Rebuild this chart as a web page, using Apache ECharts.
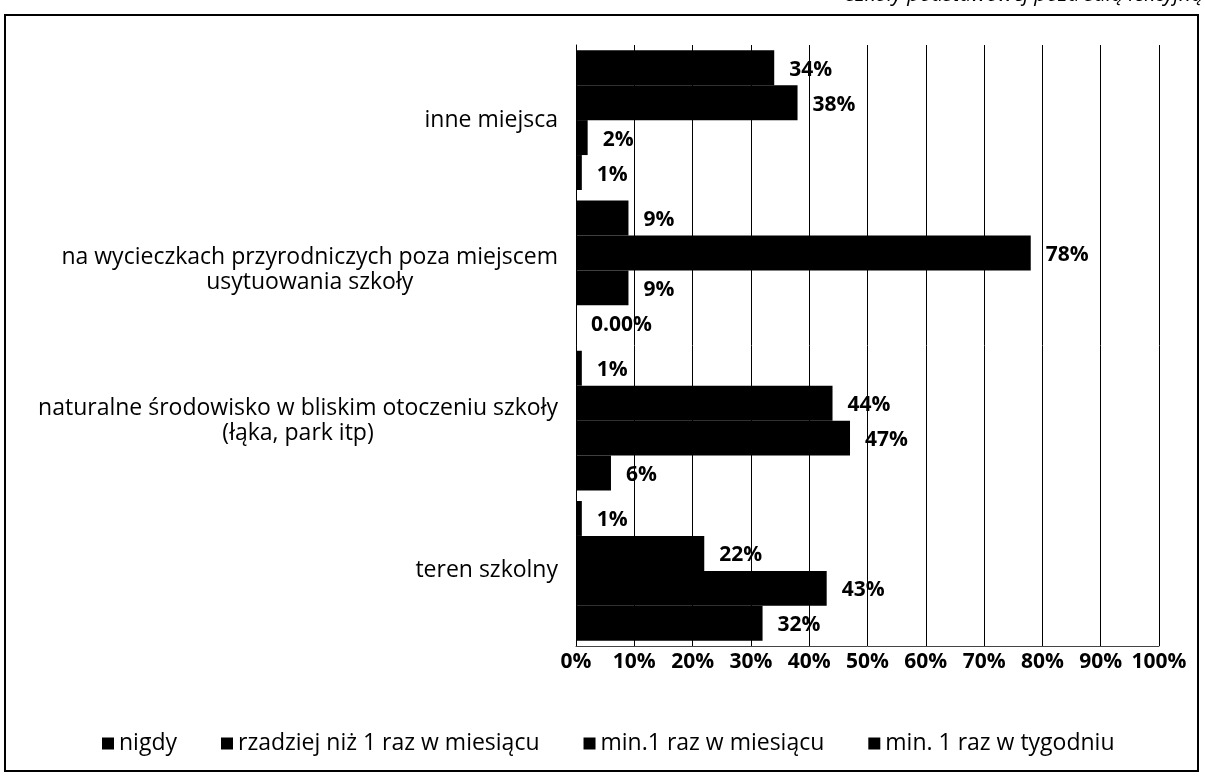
<!DOCTYPE html>
<html lang="pl">
<head>
<meta charset="utf-8">
<style>
  html, body, #container { width: 100%; height: 100%; margin: 0; padding: 0; background: #fff; }
</style>
</head>
<body>
<div id="container"></div>
<script src="https://cdn.jsdelivr.net/npm/echarts@6/dist/echarts.min.js"></script>
<script>
  // categories, top to bottom
  var categories = [
    'inne miejsca',
    'na wycieczkach przyrodniczych poza miejscem\nusytuowania szkoły',
    'naturalne środowisko w bliskim otoczeniu szkoły\n(łąka, park itp)',
    'teren szkolny'
  ];
  var seriesNames = ['nigdy', 'rzadziej niż 1 raz w miesiącu', 'min.1 raz w miesiącu', 'min. 1 raz w tygodniu'];
  var nigdy = [34, 9, 1, 1];
  var rzadziej = [38, 78, 44, 22];
  var minMiesiac = [2, 9, 47, 43];
  var minTydzien = [1, 0, 6, 32];
  var xTicks = [0, 10, 20, 30, 40, 50, 60, 70, 80, 90, 100];

  var font = 'Open Sans';
  var dom = document.getElementById('container');
  var myChart = echarts.init(dom, null, { renderer: 'canvas' });

  function barSeries(name, data) {
    return {
      name: name,
      type: 'bar',
      data: data,
      barGap: 0,
      barCategoryGap: '7%',
      itemStyle: { color: '#000' },
      label: {
        show: true,
        position: 'right',
        distance: 15,
        offset: [0, 2],
        color: '#000',
        fontFamily: font,
        fontWeight: 'bold',
        fontSize: 21,
        formatter: function (p) { return p.value === 0 ? '0.00%' : p.value + '%'; }
      }
    };
  }

  var option = {
    animation: false,
    backgroundColor: '#fff',
    textStyle: { fontFamily: font },
    graphic: [
      {
        type: 'rect',
        shape: { x: 5, y: 15, width: 1193, height: 756 },
        style: { fill: 'none', stroke: '#000', lineWidth: 2 }
      },
      {
        type: 'text',
        right: 2,
        top: -15,
        style: {
          text: 'szkoły podstawowej poza salą lekcyjną',
          fill: '#000',
          font: 'italic 21px "Open Sans"'
        }
      }
    ],
    legend: {
      left: 97,
      top: 727,
      itemWidth: 12,
      itemHeight: 12,
      itemGap: 44,
      icon: 'rect',
      textStyle: { color: '#000', fontSize: 23, fontFamily: font },
      data: seriesNames
    },
    grid: { left: 576, right: 46, top: 45, bottom: 131 },
    xAxis: {
      type: 'value',
      min: 0,
      max: 100,
      interval: 10,
      axisLine: { show: true, lineStyle: { color: '#444', width: 1 } },
      axisTick: { show: false },
      splitLine: { show: true, lineStyle: { color: '#000', width: 1 } },
      axisLabel: {
        color: '#000',
        fontSize: 21,
        fontWeight: 'bold',
        fontFamily: font,
        margin: 6,
        formatter: function (v) { return xTicks.indexOf(v) >= 0 ? v + '%' : ''; }
      }
    },
    yAxis: {
      type: 'category',
      inverse: true,
      data: categories,
      axisLine: { show: true, lineStyle: { color: '#000', width: 1 } },
      axisTick: { show: false },
      axisLabel: {
        color: '#000',
        fontSize: 23,
        fontFamily: font,
        margin: 18,
        lineHeight: 25,
        formatter: function (v) {
          return v.split('\n').map(function (s) { return '{c|' + s + '}'; }).join('\n');
        },
        rich: { c: { align: 'center', fontSize: 23, fontFamily: font, color: '#000', lineHeight: 25 } }
      }
    },
    series: [
      barSeries(seriesNames[0], nigdy),
      barSeries(seriesNames[1], rzadziej),
      barSeries(seriesNames[2], minMiesiac),
      barSeries(seriesNames[3], minTydzien)
    ]
  };
  myChart.setOption(option);
  window.addEventListener('resize', myChart.resize);
</script>
</body>
</html>
